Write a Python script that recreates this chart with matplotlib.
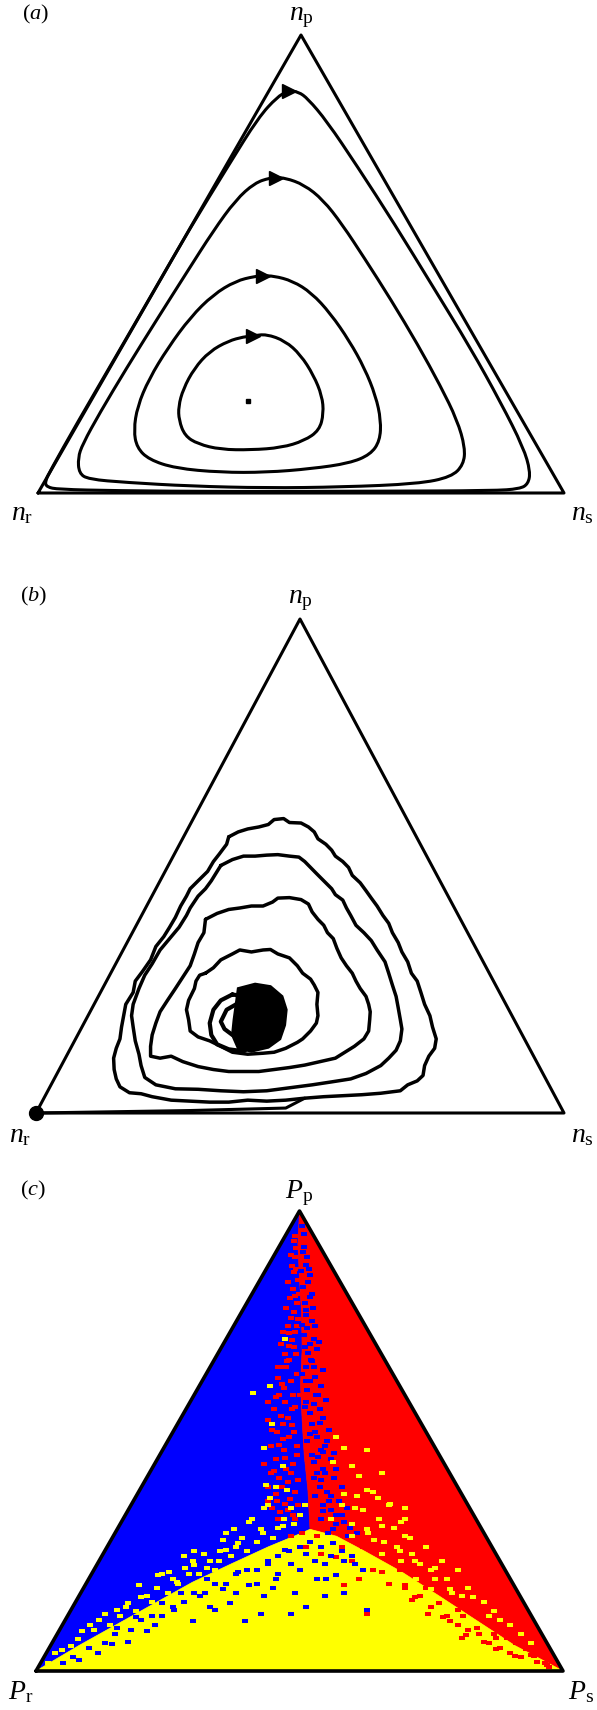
import matplotlib.pyplot as plt
from matplotlib.patches import Polygon, PathPatch
from matplotlib.path import Path

plt.rcParams['font.family'] = 'Liberation Serif'
plt.rcParams['mathtext.fontset'] = 'custom'
plt.rcParams['mathtext.rm'] = 'Liberation Serif'
plt.rcParams['mathtext.it'] = 'Liberation Serif:italic'

# All positions are in ternary-plane coordinates:
# x runs along the base (0..1), y is the height (0..1), apex at (0.5, 1).
TRIANGLE = [(0.0, 0.0), (1.0, 0.0), (0.5, 1.0)]

# ===================== (a) deterministic orbits =====================
fixed_point = (0.399, 0.200)
orbit_1 = [(0.409, 0.343), (0.434, 0.347), (0.470, 0.332), (0.499, 0.302), (0.524, 0.257),
           (0.540, 0.212), (0.543, 0.174), (0.535, 0.137), (0.506, 0.114), (0.463, 0.099),
           (0.405, 0.094), (0.347, 0.095), (0.304, 0.107), (0.279, 0.125), (0.268, 0.159),
           (0.267, 0.189), (0.276, 0.227), (0.297, 0.272), (0.326, 0.309), (0.362, 0.332),
           (0.391, 0.341)]
orbit_2 = [(0.427, 0.474), (0.448, 0.474), (0.484, 0.463), (0.520, 0.437), (0.556, 0.392),
           (0.592, 0.332), (0.621, 0.272), (0.642, 0.212), (0.652, 0.159), (0.650, 0.114),
           (0.632, 0.084), (0.592, 0.065), (0.520, 0.053), (0.434, 0.045), (0.347, 0.045),
           (0.261, 0.054), (0.211, 0.073), (0.188, 0.099), (0.182, 0.137), (0.189, 0.189),
           (0.211, 0.249), (0.247, 0.317), (0.290, 0.384), (0.333, 0.433), (0.376, 0.463),
           (0.412, 0.473)]
orbit_3 = [(0.452, 0.688), (0.470, 0.688), (0.506, 0.673), (0.542, 0.640), (0.578, 0.587),
           (0.621, 0.512), (0.671, 0.422), (0.722, 0.324), (0.765, 0.234), (0.797, 0.159),
           (0.812, 0.099), (0.809, 0.062), (0.786, 0.035), (0.722, 0.020), (0.578, 0.013),
           (0.434, 0.011), (0.290, 0.015), (0.168, 0.023), (0.096, 0.030), (0.078, 0.043),
           (0.076, 0.077), (0.085, 0.107), (0.117, 0.174), (0.168, 0.272), (0.225, 0.377),
           (0.283, 0.482), (0.333, 0.572), (0.376, 0.640), (0.412, 0.677), (0.441, 0.688)]
orbit_4 = [(0.477, 0.878), (0.495, 0.876), (0.513, 0.861), (0.549, 0.812), (0.606, 0.715),
           (0.678, 0.587), (0.750, 0.452), (0.822, 0.317), (0.880, 0.197), (0.923, 0.099),
           (0.936, 0.047), (0.932, 0.020), (0.916, 0.009), (0.865, 0.005), (0.650, 0.004),
           (0.362, 0.003), (0.146, 0.005), (0.038, 0.008), (0.017, 0.013), (0.013, 0.024),
           (0.024, 0.050), (0.074, 0.152), (0.146, 0.294), (0.218, 0.437), (0.290, 0.580),
           (0.362, 0.715), (0.419, 0.820), (0.455, 0.865), (0.473, 0.876)]
orbits = [orbit_1, orbit_2, orbit_3, orbit_4]

# ===================== (b) stochastic trajectory =====================
loop_a = [(0.365, 0.559), (0.383, 0.569), (0.401, 0.575), (0.422, 0.579), (0.440, 0.584),
          (0.451, 0.594), (0.469, 0.596), (0.480, 0.588), (0.502, 0.587), (0.516, 0.579),
          (0.527, 0.569), (0.534, 0.555), (0.549, 0.544), (0.560, 0.532), (0.567, 0.520),
          (0.581, 0.509), (0.592, 0.497), (0.599, 0.481), (0.614, 0.466), (0.625, 0.450),
          (0.635, 0.435), (0.646, 0.419), (0.657, 0.400), (0.668, 0.384), (0.675, 0.365),
          (0.686, 0.345), (0.693, 0.326), (0.704, 0.306), (0.711, 0.283), (0.722, 0.267),
          (0.729, 0.244), (0.736, 0.220), (0.746, 0.197), (0.751, 0.174), (0.758, 0.150),
          (0.755, 0.131), (0.744, 0.115), (0.736, 0.096), (0.733, 0.076), (0.722, 0.065),
          (0.704, 0.057), (0.690, 0.045), (0.653, 0.040), (0.617, 0.037), (0.581, 0.035),
          (0.545, 0.033), (0.509, 0.030), (0.473, 0.026), (0.437, 0.024), (0.401, 0.026),
          (0.365, 0.022), (0.329, 0.022), (0.292, 0.024), (0.256, 0.026), (0.220, 0.033),
          (0.199, 0.039), (0.177, 0.041), (0.159, 0.053), (0.152, 0.069), (0.148, 0.088),
          (0.147, 0.111), (0.152, 0.131), (0.159, 0.150), (0.162, 0.174), (0.166, 0.197),
          (0.170, 0.220), (0.184, 0.244), (0.188, 0.267), (0.202, 0.287), (0.217, 0.310),
          (0.227, 0.337), (0.242, 0.357), (0.253, 0.376), (0.264, 0.396), (0.274, 0.419),
          (0.285, 0.439), (0.292, 0.454), (0.307, 0.470), (0.325, 0.489), (0.336, 0.509),
          (0.347, 0.524), (0.361, 0.544)]
loop_b = [(0.350, 0.501), (0.372, 0.513), (0.393, 0.520), (0.415, 0.520), (0.437, 0.522),
          (0.458, 0.523), (0.480, 0.520), (0.498, 0.518), (0.509, 0.509), (0.520, 0.497),
          (0.531, 0.485), (0.545, 0.470), (0.560, 0.454), (0.567, 0.442), (0.581, 0.431),
          (0.588, 0.415), (0.596, 0.400), (0.606, 0.380), (0.621, 0.365), (0.635, 0.349),
          (0.646, 0.330), (0.661, 0.306), (0.668, 0.283), (0.675, 0.259), (0.682, 0.236),
          (0.686, 0.213), (0.690, 0.189), (0.693, 0.170), (0.690, 0.146), (0.682, 0.127),
          (0.668, 0.111), (0.653, 0.096), (0.625, 0.080), (0.596, 0.069), (0.560, 0.063),
          (0.523, 0.057), (0.480, 0.051), (0.437, 0.045), (0.393, 0.043), (0.350, 0.045),
          (0.307, 0.048), (0.264, 0.049), (0.227, 0.057), (0.206, 0.072), (0.199, 0.096),
          (0.195, 0.119), (0.188, 0.146), (0.184, 0.174), (0.181, 0.197), (0.184, 0.220),
          (0.195, 0.252), (0.206, 0.279), (0.220, 0.302), (0.235, 0.330), (0.253, 0.353),
          (0.271, 0.376), (0.285, 0.400), (0.292, 0.415), (0.307, 0.439), (0.321, 0.454),
          (0.332, 0.470), (0.343, 0.489)]
loop_c = [(0.321, 0.392), (0.343, 0.404), (0.365, 0.412), (0.386, 0.415), (0.408, 0.419),
          (0.430, 0.419), (0.448, 0.427), (0.458, 0.435), (0.480, 0.436), (0.502, 0.432),
          (0.516, 0.423), (0.523, 0.407), (0.534, 0.392), (0.545, 0.380), (0.552, 0.365),
          (0.563, 0.353), (0.570, 0.333), (0.578, 0.314), (0.588, 0.298), (0.599, 0.283),
          (0.606, 0.267), (0.614, 0.252), (0.625, 0.236), (0.630, 0.220), (0.633, 0.205),
          (0.632, 0.189), (0.630, 0.166), (0.621, 0.150), (0.603, 0.135), (0.585, 0.123),
          (0.567, 0.111), (0.538, 0.104), (0.509, 0.097), (0.480, 0.092), (0.451, 0.088),
          (0.422, 0.084), (0.393, 0.084), (0.365, 0.084), (0.336, 0.088), (0.307, 0.094),
          (0.278, 0.104), (0.256, 0.115), (0.235, 0.111), (0.217, 0.115), (0.217, 0.135),
          (0.220, 0.158), (0.227, 0.182), (0.235, 0.205), (0.249, 0.228), (0.264, 0.252),
          (0.278, 0.275), (0.292, 0.298), (0.300, 0.322), (0.307, 0.345), (0.318, 0.365)]
loop_d = [(0.321, 0.283), (0.336, 0.294), (0.350, 0.310), (0.372, 0.322), (0.386, 0.330),
          (0.408, 0.326), (0.430, 0.330), (0.444, 0.331), (0.458, 0.322), (0.480, 0.314),
          (0.495, 0.298), (0.505, 0.283), (0.520, 0.271), (0.527, 0.259), (0.534, 0.244),
          (0.532, 0.220), (0.534, 0.197), (0.531, 0.182), (0.520, 0.166), (0.505, 0.150),
          (0.495, 0.143), (0.473, 0.131), (0.451, 0.123), (0.430, 0.121), (0.401, 0.119),
          (0.372, 0.123), (0.350, 0.135), (0.329, 0.146), (0.307, 0.154), (0.292, 0.166),
          (0.289, 0.189), (0.285, 0.209), (0.289, 0.228), (0.300, 0.252), (0.303, 0.267),
          (0.310, 0.279)]
core_blob = [(0.383, 0.252), (0.415, 0.261), (0.444, 0.256), (0.466, 0.236), (0.474, 0.209),
             (0.471, 0.178), (0.462, 0.150), (0.440, 0.133), (0.408, 0.125), (0.383, 0.131),
             (0.372, 0.158), (0.375, 0.189), (0.379, 0.220)]
core_ring = [(0.372, 0.240), (0.350, 0.228), (0.336, 0.209), (0.329, 0.182), (0.332, 0.158),
             (0.343, 0.139), (0.365, 0.129), (0.393, 0.125), (0.408, 0.135), (0.393, 0.150),
             (0.372, 0.158), (0.357, 0.170), (0.350, 0.185), (0.361, 0.209), (0.379, 0.220),
             (0.393, 0.236), (0.372, 0.240)]
final_run = [(0.509, 0.030), (0.473, 0.010), (0.292, 0.005), (0.0, 0.0)]
spiral_loops = [loop_d, loop_c, loop_b, loop_a]
absorbing_state = (0.0, 0.0)

# ===================== (c) basins of attraction =====================
apex = (0.5, 1.0)
blue_red_edge = [(0.497, 0.929), (0.500, 0.853), (0.504, 0.776), (0.505, 0.699), (0.502, 0.623),
                 (0.505, 0.546), (0.509, 0.469), (0.516, 0.393), (0.520, 0.308)]
blue_yellow_edge = [(0.520, 0.308), (0.498, 0.297), (0.441, 0.270), (0.369, 0.232), (0.297, 0.193),
                    (0.225, 0.147), (0.153, 0.101), (0.081, 0.055), (0.0, 0.0)]
red_yellow_edge = [(0.520, 0.308), (0.570, 0.293), (0.621, 0.262), (0.693, 0.216), (0.765, 0.163),
                   (0.837, 0.109), (0.909, 0.055), (0.959, 0.025), (1.0, 0.0)]

red_specks = [(0.491, 0.945), (0.492, 0.899), (0.490, 0.868), (0.487, 0.830), (0.495, 0.799),
              (0.484, 0.768), (0.491, 0.738), (0.480, 0.707), (0.469, 0.738), (0.475, 0.661),
              (0.484, 0.630), (0.466, 0.623), (0.473, 0.584), (0.459, 0.638), (0.451, 0.569),
              (0.469, 0.538), (0.480, 0.508), (0.462, 0.492), (0.473, 0.462), (0.484, 0.431),
              (0.466, 0.400), (0.455, 0.385), (0.473, 0.362), (0.441, 0.584), (0.480, 0.676),
              (0.485, 0.569), (0.448, 0.523), (0.495, 0.469), (0.487, 0.339), (0.469, 0.316),
              (0.459, 0.331), (0.448, 0.354),
              (0.494, 0.920), (0.486, 0.880), (0.497, 0.850), (0.482, 0.810), (0.490, 0.780),
              (0.478, 0.750), (0.486, 0.720), (0.473, 0.690), (0.493, 0.690), (0.470, 0.660),
              (0.488, 0.600), (0.462, 0.600), (0.478, 0.550), (0.458, 0.520), (0.490, 0.520),
              (0.470, 0.480), (0.455, 0.460), (0.488, 0.450), (0.462, 0.420), (0.478, 0.410),
              (0.445, 0.430), (0.492, 0.390), (0.458, 0.370), (0.440, 0.400), (0.478, 0.350),
              (0.497, 0.360), (0.432, 0.450), (0.500, 0.600), (0.496, 0.750), (0.499, 0.820),
              (0.489, 0.935), (0.483, 0.905), (0.493, 0.875), (0.479, 0.845), (0.492, 0.815),
              (0.474, 0.790), (0.497, 0.765), (0.481, 0.735), (0.465, 0.710), (0.489, 0.705),
              (0.476, 0.675), (0.460, 0.660), (0.495, 0.645), (0.470, 0.615), (0.455, 0.595),
              (0.492, 0.575), (0.465, 0.555), (0.440, 0.545), (0.485, 0.535), (0.468, 0.505),
              (0.445, 0.490), (0.495, 0.490), (0.475, 0.440), (0.452, 0.435), (0.482, 0.375),
              (0.463, 0.345), (0.440, 0.370), (0.498, 0.415),
              (0.491, 0.331), (0.505, 0.301), (0.534, 0.293), (0.549, 0.316), (0.484, 0.293),
              (0.513, 0.270), (0.541, 0.255), (0.570, 0.247),
              (0.657, 0.216), (0.700, 0.186), (0.729, 0.163), (0.765, 0.147), (0.801, 0.132),
              (0.837, 0.094), (0.873, 0.071), (0.894, 0.071), (0.851, 0.063), (0.815, 0.078),
              (0.786, 0.109), (0.743, 0.124), (0.930, 0.048), (0.945, 0.032), (0.966, 0.017),
              (0.628, 0.124), (0.808, 0.071), (0.909, 0.032), (0.973, 0.009), (0.585, 0.186),
              (0.613, 0.201), (0.714, 0.155), (0.772, 0.117), (0.873, 0.048),
              (0.600, 0.240), (0.640, 0.220), (0.670, 0.190), (0.700, 0.180), (0.720, 0.160),
              (0.750, 0.140), (0.780, 0.120), (0.800, 0.100), (0.820, 0.090), (0.840, 0.080),
              (0.860, 0.060), (0.880, 0.050), (0.900, 0.040), (0.920, 0.030), (0.950, 0.020),
              (0.970, 0.012), (0.620, 0.270), (0.690, 0.220), (0.740, 0.180), (0.810, 0.120),
              (0.870, 0.080), (0.910, 0.060), (0.940, 0.035), (0.580, 0.270)]
blue_specks = [(0.505, 0.968), (0.509, 0.922), (0.513, 0.883), (0.516, 0.845), (0.520, 0.814),
               (0.513, 0.784), (0.523, 0.761), (0.527, 0.722), (0.516, 0.692), (0.527, 0.661),
               (0.520, 0.630), (0.531, 0.600), (0.538, 0.569), (0.523, 0.538), (0.534, 0.508),
               (0.545, 0.477), (0.527, 0.454), (0.549, 0.431), (0.538, 0.400), (0.556, 0.370),
               (0.545, 0.347), (0.570, 0.339), (0.563, 0.308), (0.585, 0.324), (0.505, 0.753),
               (0.513, 0.584), (0.505, 0.646), (0.521, 0.676), (0.534, 0.431),
               (0.508, 0.950), (0.515, 0.900), (0.503, 0.870), (0.520, 0.860), (0.510, 0.800),
               (0.526, 0.790), (0.508, 0.730), (0.519, 0.710), (0.533, 0.700), (0.512, 0.660),
               (0.530, 0.640), (0.515, 0.610), (0.540, 0.620), (0.527, 0.580), (0.519, 0.560),
               (0.545, 0.550), (0.530, 0.520), (0.515, 0.500), (0.552, 0.500), (0.540, 0.480),
               (0.523, 0.470), (0.560, 0.460), (0.545, 0.440), (0.528, 0.420), (0.565, 0.420),
               (0.552, 0.390), (0.530, 0.380), (0.575, 0.370), (0.560, 0.350), (0.540, 0.330),
               (0.580, 0.340), (0.595, 0.310), (0.555, 0.300), (0.610, 0.300),
               (0.506, 0.910), (0.518, 0.875), (0.506, 0.835), (0.524, 0.820), (0.512, 0.775),
               (0.530, 0.750), (0.514, 0.745), (0.537, 0.715), (0.510, 0.705), (0.523, 0.675),
               (0.545, 0.655), (0.513, 0.630), (0.535, 0.600), (0.550, 0.590), (0.510, 0.575),
               (0.538, 0.540), (0.556, 0.525), (0.520, 0.515), (0.548, 0.490), (0.565, 0.475),
               (0.535, 0.465), (0.570, 0.440), (0.540, 0.415), (0.580, 0.400), (0.560, 0.380),
               (0.545, 0.360), (0.590, 0.355), (0.570, 0.320),
               (0.225, 0.101), (0.174, 0.063), (0.145, 0.059), (0.297, 0.109), (0.340, 0.132),
               (0.369, 0.147), (0.397, 0.109), (0.426, 0.124), (0.484, 0.124), (0.513, 0.140),
               (0.549, 0.163), (0.585, 0.170), (0.628, 0.132), (0.455, 0.201), (0.405, 0.186),
               (0.354, 0.178), (0.311, 0.163), (0.261, 0.132), (0.210, 0.086), (0.117, 0.040),
               (0.081, 0.025), (0.052, 0.017), (0.433, 0.163), (0.491, 0.170), (0.534, 0.201),
               (0.570, 0.209), (0.383, 0.216), (0.325, 0.201), (0.275, 0.170), (0.239, 0.147),
               (0.189, 0.117), (0.153, 0.094), (0.549, 0.232), (0.484, 0.232), (0.441, 0.232),
               (0.585, 0.239), (0.513, 0.255), (0.473, 0.262), (0.563, 0.278), (0.606, 0.232),
               (0.592, 0.293),
               (0.070, 0.030), (0.100, 0.050), (0.130, 0.060), (0.150, 0.080), (0.180, 0.090),
               (0.200, 0.110), (0.220, 0.120), (0.240, 0.120), (0.260, 0.140), (0.280, 0.150),
               (0.300, 0.170), (0.320, 0.170), (0.340, 0.190), (0.360, 0.190), (0.380, 0.210),
               (0.400, 0.220), (0.420, 0.220), (0.440, 0.240), (0.460, 0.250), (0.480, 0.260),
               (0.500, 0.270), (0.520, 0.280), (0.540, 0.270), (0.560, 0.250), (0.460, 0.210),
               (0.500, 0.220), (0.420, 0.190), (0.530, 0.240), (0.580, 0.260), (0.600, 0.250),
               (0.380, 0.170), (0.330, 0.140), (0.450, 0.180), (0.550, 0.200), (0.620, 0.220)]
yellow_specks = [(0.473, 0.722), (0.444, 0.619), (0.412, 0.604), (0.432, 0.485), (0.448, 0.538),
                 (0.469, 0.446), (0.437, 0.404), (0.477, 0.393),
                 (0.570, 0.508), (0.585, 0.485), (0.628, 0.481), (0.599, 0.446), (0.563, 0.454),
                 (0.613, 0.423), (0.657, 0.431), (0.649, 0.377), (0.671, 0.362), (0.628, 0.393),
                 (0.585, 0.385), (0.606, 0.354), (0.657, 0.316), (0.693, 0.324), (0.700, 0.293),
                 (0.642, 0.285), (0.685, 0.270), (0.714, 0.255), (0.729, 0.232), (0.757, 0.224),
                 (0.693, 0.239), (0.657, 0.255), (0.628, 0.308), (0.599, 0.293), (0.570, 0.270),
                 (0.700, 0.354), (0.757, 0.201), (0.786, 0.178), (0.808, 0.163), (0.750, 0.178),
                 (0.721, 0.201),
                 (0.560, 0.330), (0.580, 0.360), (0.600, 0.320), (0.620, 0.350), (0.630, 0.300),
                 (0.650, 0.330), (0.660, 0.280), (0.680, 0.310), (0.690, 0.260), (0.710, 0.290),
                 (0.720, 0.240), (0.740, 0.270), (0.750, 0.220), (0.770, 0.240), (0.780, 0.200),
                 (0.800, 0.220), (0.820, 0.180), (0.830, 0.160), (0.850, 0.150), (0.870, 0.130),
                 (0.880, 0.110), (0.900, 0.100), (0.920, 0.080), (0.940, 0.060), (0.670, 0.360),
                 (0.640, 0.390), (0.700, 0.330), (0.790, 0.170), (0.860, 0.120), (0.610, 0.380),
                 (0.232, 0.209), (0.253, 0.216), (0.282, 0.224), (0.318, 0.255), (0.354, 0.285),
                 (0.376, 0.308), (0.405, 0.324), (0.433, 0.354), (0.444, 0.377), (0.455, 0.400),
                 (0.361, 0.262), (0.297, 0.239), (0.196, 0.186), (0.153, 0.132), (0.131, 0.124),
                 (0.088, 0.086), (0.066, 0.055), (0.037, 0.040), (0.023, 0.017), (0.102, 0.101),
                 (0.174, 0.147), (0.210, 0.163), (0.268, 0.193), (0.325, 0.224), (0.383, 0.278),
                 (0.426, 0.308), (0.469, 0.316), (0.484, 0.354), (0.412, 0.247), (0.347, 0.239),
                 (0.050, 0.045), (0.080, 0.070), (0.110, 0.090), (0.120, 0.110), (0.140, 0.100),
                 (0.160, 0.120), (0.170, 0.140), (0.190, 0.130), (0.200, 0.160), (0.220, 0.150),
                 (0.230, 0.180), (0.250, 0.170), (0.260, 0.200), (0.270, 0.190), (0.290, 0.210),
                 (0.300, 0.230), (0.310, 0.210), (0.330, 0.240), (0.340, 0.220), (0.350, 0.260),
                 (0.370, 0.250), (0.380, 0.270), (0.390, 0.290), (0.400, 0.260), (0.420, 0.280),
                 (0.430, 0.300), (0.450, 0.290), (0.460, 0.310), (0.470, 0.330), (0.490, 0.320),
                 (0.500, 0.340), (0.510, 0.360), (0.300, 0.260), (0.360, 0.300), (0.410, 0.330),
                 (0.240, 0.210), (0.440, 0.360), (0.280, 0.250)]

# ===================== labels =====================
panel_tags = [r'$(a)$', r'$(b)$', r'$(c)$']
corner_labels = [
    [r'$n_{\mathrm{r}}$', r'$n_{\mathrm{s}}$', r'$n_{\mathrm{p}}$'],
    [r'$n_{\mathrm{r}}$', r'$n_{\mathrm{s}}$', r'$n_{\mathrm{p}}$'],
    [r'$P_{\mathrm{r}}$', r'$P_{\mathrm{s}}$', r'$P_{\mathrm{p}}$'],
]

W, H = 597, 1710
fig = plt.figure(figsize=(W / 100, H / 100), dpi=100)


def panel_axes(left, right, base, top):
    # triangle footprint in figure pixels
    ax = fig.add_axes([left / W, 1 - base / H, (right - left) / W, (base - top) / H])
    ax.set_xlim(0, 1)
    ax.set_ylim(0, 1)
    ax.axis('off')
    return ax


def line(ax, pts, closed=False, **kw):
    pts = list(pts) + ([pts[0]] if closed else [])
    xs, ys = zip(*pts)
    ax.plot(xs, ys, color='k', clip_on=False, solid_joinstyle='round',
            solid_capstyle='round', **kw)


def smooth_loop(ax, pts, lw):
    # closed curve drawn with quadratic Bezier segments, read points as control points
    n = len(pts)
    mids = [((pts[i][0] + pts[(i + 1) % n][0]) / 2, (pts[i][1] + pts[(i + 1) % n][1]) / 2)
            for i in range(n)]
    verts = [mids[-1]]
    codes = [Path.MOVETO]
    for i in range(n):
        verts += [pts[i], mids[i]]
        codes += [Path.CURVE3, Path.CURVE3]
    ax.add_patch(PathPatch(Path(verts, codes), fill=False, edgecolor='k', lw=lw, clip_on=False))


def label_corners(ax, tag, labels):
    ax.text(-0.03, 1.045, tag, fontsize=16, ha='left', va='center', transform=ax.transAxes)
    ax.text(0.5, 1.038, labels[2], fontsize=20, ha='center', va='center', transform=ax.transAxes)
    ax.text(-0.03, -0.045, labels[0], fontsize=20, ha='center', va='center', transform=ax.transAxes)
    ax.text(1.035, -0.045, labels[1], fontsize=20, ha='center', va='center', transform=ax.transAxes)


# ---- (a)
ax_a = panel_axes(38, 564, 493, 35)
line(ax_a, TRIANGLE, closed=True, lw=2.2)
for orb in orbits:
    smooth_loop(ax_a, orb, lw=2.2)
    ax_a.plot(orb[0][0], orb[0][1], marker='>', ms=10, color='k', clip_on=False)
ax_a.plot(*fixed_point, marker='s', ms=3.5, color='k')
label_corners(ax_a, panel_tags[0], corner_labels[0])

# ---- (b)
ax_b = panel_axes(36, 564, 1113, 619)
line(ax_b, TRIANGLE, closed=True, lw=2.2)
for lp in spiral_loops:
    line(ax_b, lp, closed=True, lw=2.5)
ax_b.add_patch(Polygon(core_blob, closed=True, facecolor='k', edgecolor='k', lw=2))
line(ax_b, core_ring, lw=3.0)
line(ax_b, final_run, lw=2.2)
ax_b.plot(*absorbing_state, marker='o', ms=10, color='k', clip_on=False)
label_corners(ax_b, panel_tags[1], corner_labels[1])

# ---- (c)
ax_c = panel_axes(36, 563, 1671, 1211)
blue_poly = [apex] + blue_red_edge + blue_yellow_edge[1:]
red_poly = [apex, (1.0, 0.0)] + red_yellow_edge[::-1][1:] + blue_red_edge[::-1]
yellow_poly = [(0.0, 0.0), (1.0, 0.0)] + red_yellow_edge[::-1][1:] + blue_yellow_edge[1:-1]
for poly, col in [(blue_poly, '#0000ff'), (red_poly, '#ff0000'), (yellow_poly, '#ffff00')]:
    ax_c.add_patch(Polygon(poly, closed=True, facecolor=col, edgecolor=col, lw=0.5))
dash = [(-1.0, -0.6), (1.0, -0.6), (1.0, 0.6), (-1.0, 0.6)]
for specks, col in [(red_specks, '#ff0000'), (blue_specks, '#0000ff'), (yellow_specks, '#ffff00')]:
    xs, ys = zip(*specks)
    ax_c.scatter(xs, ys, s=14, marker=dash, color=col, linewidths=0)
line(ax_c, TRIANGLE, closed=True, lw=2.6)
label_corners(ax_c, panel_tags[2], corner_labels[2])

fig.savefig('out.png', dpi=100)
